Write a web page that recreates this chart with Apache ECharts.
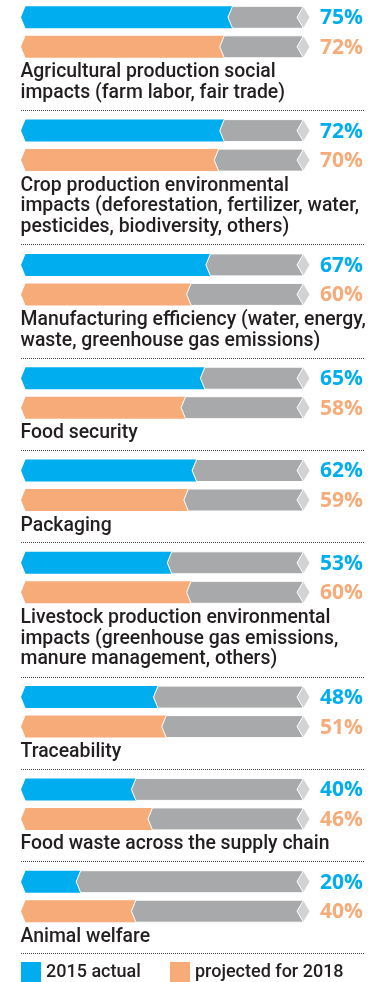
<!DOCTYPE html>
<html><head><meta charset="utf-8">
<script src="https://cdn.jsdelivr.net/npm/echarts@6/dist/echarts.min.js"></script>
<style>html,body{margin:0;padding:0;background:#fff}#c{width:387px;height:982px}</style>
</head><body><div id="c"></div>
<script>
const categories = [
  'Agricultural production social\nimpacts (farm labor, fair trade)',
  'Crop production environmental\nimpacts (deforestation, fertilizer, water,\npesticides, biodiversity, others)',
  'Manufacturing efficiency (water, energy,\nwaste, greenhouse gas emissions)',
  'Food security',
  'Packaging',
  'Livestock production environmental\nimpacts (greenhouse gas emissions,\nmanure management, others)',
  'Traceability',
  'Food waste across the supply chain',
  'Animal welfare'
];
const actual2015 = [75, 72, 67, 65, 62, 53, 48, 40, 20];
const projected2018 = [72, 70, 60, 58, 59, 60, 51, 46, 40];
const seriesNames = ['2015 actual', 'projected for 2018'];

const colors = ['#00AEEF', '#F7AB78'];
const GRAY = '#A7A9AA', LIGHT = '#D1D3D4', TEXT = '#231F20';
const FONT = 'Roboto';

const chart = echarts.init(document.getElementById('c'), null, {renderer: 'canvas', width: 387, height: 982});

function renderBar(params, api) {
  const v = api.value(0), k = api.value(1);
  const p0 = api.coord([0, k]), p1 = api.coord([v, k]), pe = api.coord([100, k]);
  const yc = p0[1], h = 11, d = 4.5;
  const top = yc - h, bot = yc + h;
  const x0 = p0[0], x1 = p1[0], xe = pe[0];
  const col = api.visual('color');
  return {type: 'group', children: [
    {type: 'polygon', shape: {points: [[x0, yc], [x0 + d, top], [x1 + d, top], [x1, yc], [x1 + d, bot], [x0 + d, bot]]}, style: {fill: col}},
    {type: 'polygon', shape: {points: [[x1, yc], [x1 + d, top], [xe + 6, top], [xe + 6, bot], [x1 + d, bot]]}, style: {fill: GRAY, stroke: '#fff', lineWidth: 1}},
    {type: 'polygon', shape: {points: [[xe, yc], [xe + 6.5, top], [xe + 13, yc], [xe + 6.5, bot]]}, style: {fill: LIGHT, stroke: '#fff', lineWidth: 1}},
    {type: 'text', x: xe + 23, y: yc + 1, style: {text: v + '%', font: 'bold 21px "Open Sans"', fill: col, align: 'left', verticalAlign: 'middle'}}
  ]};
}

const grids = [], xAxes = [], yAxes = [], series = [], graphics = [];
let c = 17.3;
categories.forEach((cat, i) => {
  const lines = cat.split('\n');
  grids.push({left: 21, width: 276, top: c - 14.75, height: 59});
  xAxes.push({type: 'value', min: 0, max: 100, gridIndex: i, show: false});
  yAxes.push({type: 'category', data: seriesNames, inverse: true, gridIndex: i, show: false});
  [actual2015, projected2018].forEach((arr, k) => {
    series.push({
      type: 'custom', name: seriesNames[k], xAxisIndex: i, yAxisIndex: i,
      itemStyle: {color: colors[k]}, data: [[arr[i], k]], renderItem: renderBar,
      encode: {x: 0, y: 1}, silent: true
    });
  });
  lines.forEach((ln, j) => {
    graphics.push({type: 'text', x: 20.5, y: c + 62 + j * 20.8 - 6.8, silent: true,
      style: {text: ln, font: '500 19.4px ' + FONT, fill: TEXT, align: 'left', verticalAlign: 'middle'}});
  });
  const gh = 92.3 + 21 * (lines.length - 1);
  const sy = Math.round(c + gh - 20.5) + 0.5;
  graphics.push({type: 'line', silent: true, shape: {x1: 21, y1: sy, x2: 365, y2: sy},
    style: {stroke: '#444', lineWidth: 1, lineDash: [1, 1]}});
  c += gh;
});

const legendBase = {top: 962, icon: 'rect', itemWidth: 20, itemHeight: 20, padding: 0, selectedMode: false,
  textStyle: {fontSize: 18, fontWeight: 500, color: TEXT, fontFamily: FONT}};

chart.setOption({
  animation: false,
  backgroundColor: '#fff',
  grid: grids, xAxis: xAxes, yAxis: yAxes, series: series,
  graphic: graphics,
  legend: [
    Object.assign({}, legendBase, {data: [seriesNames[0]], left: 21}),
    Object.assign({}, legendBase, {data: [seriesNames[1]], left: 170})
  ]
});
</script></body></html>
